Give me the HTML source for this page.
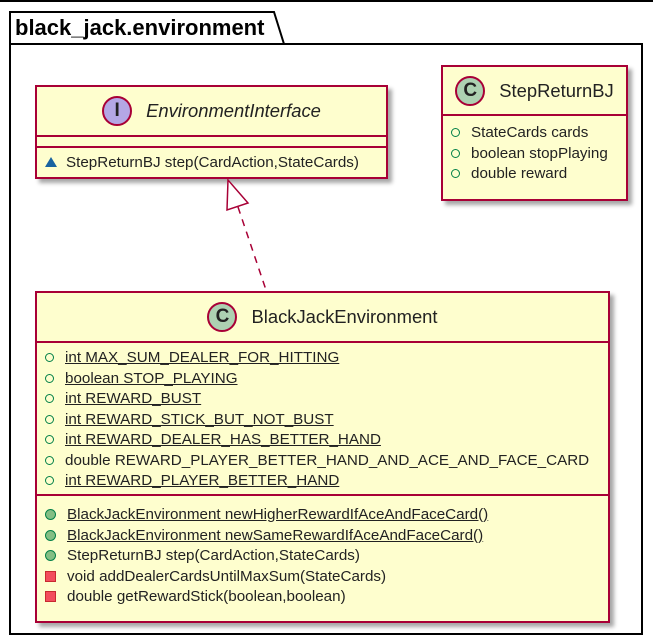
<!DOCTYPE html><html><head><style>
body{margin:0;width:653px;height:638px;background:#fff;position:relative;overflow:hidden;font-family:"Liberation Sans",sans-serif;}
.box{position:absolute;background:#fefece;border:2px solid #a80036;box-shadow:4px 4px 4px rgba(0,0,0,.35);box-sizing:border-box;}
.hd{position:absolute;left:0;right:0;top:0;border-bottom:2px solid #a80036;display:flex;align-items:center;justify-content:center;font-size:18.4px;color:#222;}
.circ{width:30px;height:30px;border-radius:50%;border:2px solid #a80036;background:#add1b2;display:inline-flex;align-items:center;justify-content:center;font-weight:bold;font-size:19px;margin-right:14px;box-sizing:border-box;}
.row{position:absolute;left:8px;font-size:15.2px;color:#222;white-space:nowrap;display:flex;align-items:center;height:20px;}
.o{width:7px;height:7px;border:1.5px solid #038048;border-radius:50%;margin-right:11px;box-sizing:content-box;}
.g{width:9px;height:9px;background:#84be84;border:1px solid #038048;border-radius:50%;margin-right:11px;}
.r{width:9px;height:9px;background:#f24d5c;border:1px solid #c82930;margin-right:11px;}
.t{width:0;height:0;border-left:6px solid transparent;border-right:6px solid transparent;border-bottom:10px solid #1963a0;margin-right:9px;}
u{text-decoration:underline;}
.sep{position:absolute;left:0;right:0;border-top:2px solid #a80036;}
</style></head><body>
<div style="position:absolute;left:0;top:0;width:653px;height:2px;background:#000"></div>
<svg style="position:absolute;left:0;top:0" width="653" height="638">
<path d="M10,44 L10,634 L642,634 L642,44 L284,44 L274,12 L10,12 Z" fill="#fff" stroke="#000" stroke-width="2"/>
<line x1="10" y1="44" x2="284" y2="44" stroke="#000" stroke-width="2"/>
<text x="15" y="35" font-family="Liberation Sans" font-weight="bold" font-size="22">black_jack.environment</text>
</svg>
<div class="box" style="left:35px;top:85px;width:353px;height:94px">
<div class="hd" style="height:48px"><span class="circ" style="background:#b4a7e5">I</span><i>EnvironmentInterface</i></div>
<div class="sep" style="top:59px"></div>
<div class="row" style="top:65px"><span class="t"></span>StepReturnBJ step(CardAction,StateCards)</div>
</div>
<div class="box" style="left:441px;top:65px;width:187px;height:136px">
<div class="hd" style="height:47px"><span class="circ">C</span>StepReturnBJ</div>
<div class="row" style="top:55px"><span class="o"></span>StateCards cards</div>
<div class="row" style="top:76px"><span class="o"></span>boolean stopPlaying</div>
<div class="row" style="top:96px"><span class="o"></span>double reward</div>
</div>
<svg style="position:absolute;left:0;top:0" width="653" height="638">
<line x1="238" y1="207" x2="266" y2="290" stroke="#a80036" stroke-width="1.5" stroke-dasharray="7,6"/>
<polygon points="228,180 227,210 248,203" fill="#fff" stroke="#a80036" stroke-width="1.5"/>
</svg>
<div class="box" style="left:35px;top:291px;width:575px;height:332px">
<div class="hd" style="height:48px"><span class="circ">C</span>BlackJackEnvironment</div>
<div class="row" style="top:54px"><span class="o"></span><u>int MAX_SUM_DEALER_FOR_HITTING</u></div>
<div class="row" style="top:75px"><span class="o"></span><u>boolean STOP_PLAYING</u></div>
<div class="row" style="top:95px"><span class="o"></span><u>int REWARD_BUST</u></div>
<div class="row" style="top:116px"><span class="o"></span><u>int REWARD_STICK_BUT_NOT_BUST</u></div>
<div class="row" style="top:136px"><span class="o"></span><u>int REWARD_DEALER_HAS_BETTER_HAND</u></div>
<div class="row" style="top:157px"><span class="o"></span>double REWARD_PLAYER_BETTER_HAND_AND_ACE_AND_FACE_CARD</div>
<div class="row" style="top:177px"><span class="o"></span><u>int REWARD_PLAYER_BETTER_HAND</u></div>
<div class="sep" style="top:201px"></div>
<div class="row" style="top:211px"><span class="g"></span><u>BlackJackEnvironment newHigherRewardIfAceAndFaceCard()</u></div>
<div class="row" style="top:232px"><span class="g"></span><u>BlackJackEnvironment newSameRewardIfAceAndFaceCard()</u></div>
<div class="row" style="top:252px"><span class="g"></span>StepReturnBJ step(CardAction,StateCards)</div>
<div class="row" style="top:273px"><span class="r"></span>void addDealerCardsUntilMaxSum(StateCards)</div>
<div class="row" style="top:293px"><span class="r"></span>double getRewardStick(boolean,boolean)</div>
</div>
</body></html>
